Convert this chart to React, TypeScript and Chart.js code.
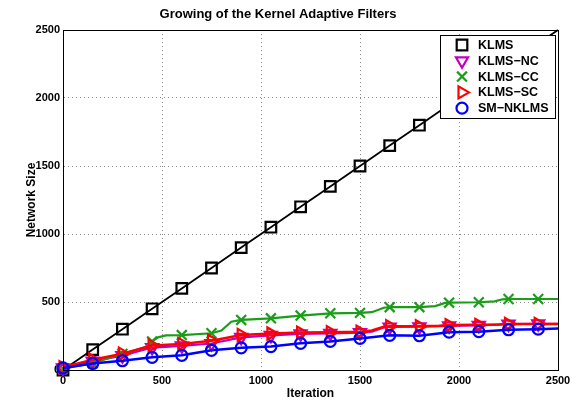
import React, { useEffect, useRef } from 'react';
import { Chart, registerables } from 'chart.js';
import { drawPoint } from 'chart.js/helpers';

Chart.register(...registerables);

const TITLE = 'Growing of the Kernel Adaptive Filters';
const X_LABEL = 'Iteration';
const Y_LABEL = 'Network Size';
const FONT = '"Liberation Sans", Arial, sans-serif';

const MARKER_ITERS = [0, 150, 300, 450, 600, 750, 900, 1050, 1200, 1350, 1500, 1650, 1800, 1950, 2100, 2250, 2400];
const X_TICKS = [0, 500, 1000, 1500, 2000, 2500];
const Y_TICKS = [0, 500, 1000, 1500, 2000, 2500];

const klmsX = [0, 150, 300, 450, 600, 750, 900, 1050, 1200, 1350, 1500, 1650, 1800, 1950, 2100, 2250, 2400, 2500];
const klmsY = [0, 150, 300, 450, 600, 750, 900, 1050, 1200, 1350, 1500, 1650, 1800, 1950, 2100, 2250, 2400, 2500];

const ncX = [0, 150, 300, 450, 600, 750, 900, 1050, 1200, 1350, 1500, 1560, 1620, 1650, 1800, 1950, 2100, 2250, 2400, 2500];
const ncY = [15, 65, 105, 165, 178, 195, 240, 255, 265, 270, 275, 282, 312, 316, 318, 325, 328, 338, 340, 340];

const ccX = [0, 150, 300, 420, 450, 480, 520, 600, 750, 800, 850, 900, 1050, 1200, 1350, 1500, 1560, 1620, 1650, 1800, 1880, 1930, 1950, 2100, 2180, 2220, 2250, 2400, 2500];
const ccY = [10, 50, 118, 170, 210, 240, 255, 257, 270, 290, 355, 368, 380, 400, 417, 420, 425, 458, 462, 462, 470, 493, 495, 498, 505, 520, 522, 522, 522];

const scX = [0, 150, 300, 450, 600, 750, 900, 1050, 1200, 1350, 1500, 1560, 1620, 1650, 1800, 1900, 1950, 2100, 2200, 2250, 2400, 2500];
const scY = [20, 75, 120, 180, 192, 215, 258, 268, 275, 278, 282, 290, 318, 322, 322, 326, 330, 332, 334, 338, 338, 338];

const smX = [0, 150, 300, 450, 600, 750, 900, 1050, 1200, 1350, 1500, 1650, 1800, 1950, 2100, 2250, 2400, 2500];
const smY = [15, 48, 68, 93, 108, 145, 163, 172, 196, 210, 232, 255, 252, 278, 282, 296, 300, 305];

const LABELS = ['KLMS', 'KLMS\u2212NC', 'KLMS\u2212CC', 'KLMS\u2212SC', 'SM\u2212NKLMS'];
const COLORS = ['#000000', '#c000c0', '#1a9e1a', '#ff0000', '#0000ff'];
const STYLES = ['rect', 'triangle', 'crossRot', 'triangle', 'circle'];
const ROTATIONS = [0, 180, 0, 90, 0];
const RADII = [7.5, 7, 7, 7, 5.5];
const LINE_W = [1.8, 2.2, 2.2, 2.5, 2.5];

const SERIES_X = [klmsX, ncX, ccX, scX, smX];
const SERIES_Y = [klmsY, ncY, ccY, scY, smY];

const PLOT = { left: 63, right: 558, top: 30, bottom: 370 };

export default function App() {
  const ref = useRef<HTMLCanvasElement | null>(null);

  useEffect(() => {
    document.body.style.margin = '0';
    const canvas = ref.current;
    if (!canvas) return;

    const datasets = LABELS.map((label, i) => ({
      label,
      data: SERIES_X[i].map((x, j) => ({ x, y: SERIES_Y[i][j] })),
      borderColor: COLORS[i],
      backgroundColor: COLORS[i],
      borderWidth: LINE_W[i],
      pointStyle: STYLES[i] as any,
      pointRotation: ROTATIONS[i],
      pointBorderColor: COLORS[i],
      pointBackgroundColor: 'rgba(0,0,0,0)',
      pointBorderWidth: 2.2,
      pointRadius: (ctx: any) => {
        const raw = ctx.raw;
        return raw && MARKER_ITERS.includes(raw.x) ? RADII[i] : 0;
      },
      pointHoverRadius: 0,
      tension: 0,
      fill: false,
      clip: false,
      order: 4 - i,
    }));

    const decor = {
      id: 'decor',
      afterDraw(chart: any) {
        const c = chart.ctx as CanvasRenderingContext2D;
        const a = chart.chartArea;
        c.save();
        c.strokeStyle = '#000';
        c.lineWidth = 1;
        c.setLineDash([]);
        c.strokeRect(Math.round(a.left) + 0.5, Math.round(a.top) + 0.5, Math.round(a.right - a.left), Math.round(a.bottom - a.top));

        c.fillStyle = '#000';
        c.font = `bold 13px ${FONT}`;
        c.textAlign = 'center';
        c.textBaseline = 'middle';
        c.fillText(TITLE, 278, 14);

        c.font = `bold 12px ${FONT}`;
        c.fillText(X_LABEL, (a.left + a.right) / 2, 394);
        c.save();
        c.translate(32, (a.top + a.bottom) / 2);
        c.rotate(-Math.PI / 2);
        c.fillText(Y_LABEL, 0, 0);
        c.restore();

        const bx = 440.5, by = 35.5, bw = 115, bh = 83;
        c.fillStyle = '#fff';
        c.fillRect(bx, by, bw, bh);
        c.strokeStyle = '#000';
        c.lineWidth = 1;
        c.strokeRect(bx, by, bw, bh);
        LABELS.forEach((label, i) => {
          const y = 45 + i * 15.8;
          c.strokeStyle = COLORS[i];
          c.fillStyle = 'rgba(0,0,0,0)';
          c.lineWidth = 2.2;
          drawPoint(c, { pointStyle: STYLES[i], rotation: ROTATIONS[i], radius: RADII[i], borderWidth: 2.2 } as any, 462, y);
          c.fillStyle = '#000';
          c.font = `bold 12.5px ${FONT}`;
          c.textAlign = 'left';
          c.textBaseline = 'middle';
          c.fillText(label, 478, y + 0.5);
        });
        c.restore();
      },
    };

    const tickFont = { family: FONT, size: 11, weight: 'bold' };

    const chart = new Chart(canvas, {
      type: 'line',
      data: { datasets: datasets as any },
      options: {
        animation: false,
        responsive: false,
        maintainAspectRatio: false,
        layout: { padding: { left: 0, right: 585 - PLOT.right, top: PLOT.top, bottom: 0 } },
        plugins: {
          legend: { display: false },
          title: { display: false },
          tooltip: { enabled: false },
        },
        scales: {
          x: {
            type: 'linear',
            min: 0,
            max: 2500,
            afterFit: (s: any) => { s.height = 402 - PLOT.bottom; },
            afterBuildTicks: (s: any) => { s.ticks = X_TICKS.map((v) => ({ value: v })); },
            ticks: { color: '#000', font: tickFont, padding: 4, maxRotation: 0, callback: (v: any) => String(v) },
            grid: { color: '#8a8a8a', lineWidth: 1, drawTicks: false },
            border: { display: true, color: '#000', width: 1, dash: [1, 3] },
          },
          y: {
            type: 'linear',
            min: 0,
            max: 2500,
            afterFit: (s: any) => { s.width = PLOT.left; },
            afterBuildTicks: (s: any) => { s.ticks = Y_TICKS.map((v) => ({ value: v })); },
            ticks: { color: '#000', font: tickFont, padding: 3, callback: (v: any) => String(v) },
            grid: { color: '#8a8a8a', lineWidth: 1, drawTicks: false },
            border: { display: true, color: '#000', width: 1, dash: [1, 3] },
          },
        },
      } as any,
      plugins: [decor],
    });

    return () => chart.destroy();
  }, []);

  return (
    <div style={{ width: 585, height: 402 }}>
      <canvas ref={ref} width={585} height={402} style={{ display: 'block' }} />
    </div>
  );
}
